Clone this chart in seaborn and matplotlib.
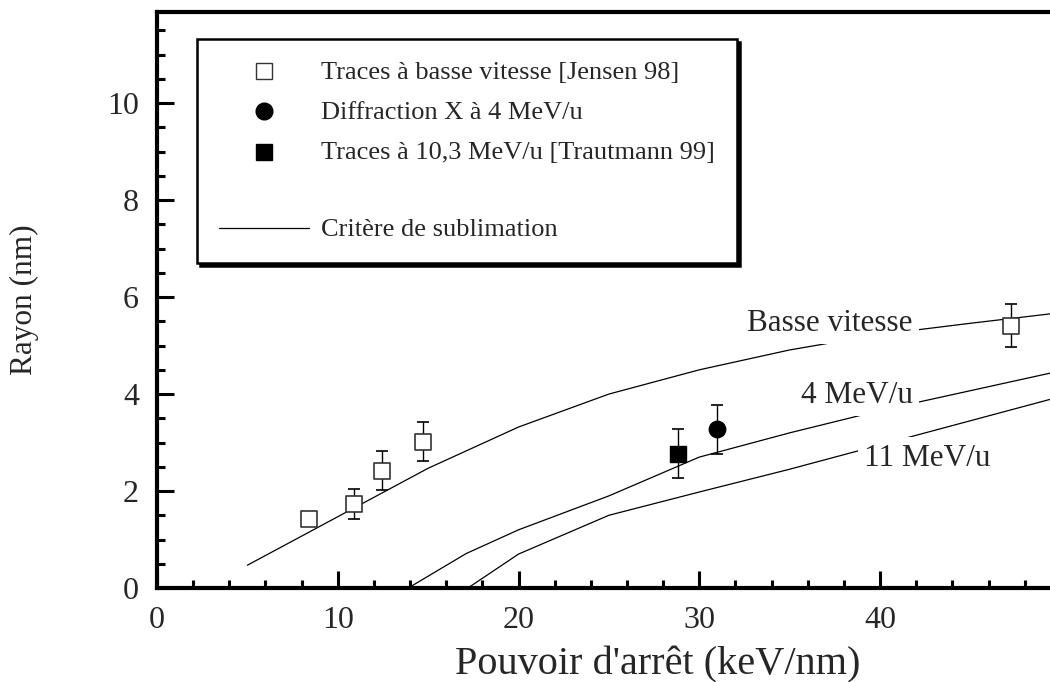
import numpy as np
import pandas as pd
import matplotlib
matplotlib.use('Agg')
import matplotlib.pyplot as plt
from matplotlib.lines import Line2D
from matplotlib.ticker import MultipleLocator
import seaborn as sns

# critere de sublimation (rayon en nm vs pouvoir d'arret en keV/nm)
bv_x = [5, 15, 20, 25, 30, 35, 40, 45, 50]
bv_y = [0.47, 2.47, 3.32, 4.0, 4.5, 4.91, 5.23, 5.46, 5.68]
mev4_x = [13.9, 17.1, 20, 25, 30, 35, 40, 45, 50]
mev4_y = [0.0, 0.71, 1.2, 1.9, 2.7, 3.2, 3.66, 4.07, 4.48]
mev11_x = [17.2, 20, 25, 30, 35, 40, 45, 50]
mev11_y = [0.0, 0.7, 1.5, 1.98, 2.45, 2.95, 3.45, 3.95]

# mesures
jensen_x = [8.4, 10.9, 12.43, 14.7, 47.26]
jensen_y = [1.42, 1.73, 2.42, 3.02, 5.41]
jensen_err = [0.0, 0.31, 0.4, 0.4, 0.44]
diffx_x = [31.0]
diffx_y = [3.27]
diffx_err = [0.5]
traut_x = [28.83]
traut_y = [2.77]
traut_err = [0.5]

curve_labels = ['Basse vitesse', '4 MeV/u', '11 MeV/u']
curve_label_pos = [(41.8, 5.46), (41.8, 3.98), (46.1, 2.68)]

sns.set_theme(style='ticks')
plt.rcParams['font.family'] = ['Liberation Serif', 'DejaVu Serif']

fig = plt.figure(figsize=(10.5, 6.82), dpi=100)
ax = fig.add_axes([157 / 1050, 1 - 588 / 682, 1 - 157 / 1050, (588 - 12) / 682])

for cx, cy in [(bv_x, bv_y), (mev4_x, mev4_y), (mev11_x, mev11_y)]:
    sns.lineplot(x=cx, y=cy, color='black', linewidth=0.9, sort=False,
                 estimator=None, ax=ax, zorder=2)

# error bars behind the markers
ax.errorbar(jensen_x, jensen_y, yerr=jensen_err, fmt='none', ecolor='black',
            elinewidth=1.0, capsize=4.5, capthick=1.2, zorder=3)
ax.errorbar(diffx_x + traut_x, diffx_y + traut_y, yerr=diffx_err + traut_err,
            fmt='none', ecolor='black', elinewidth=1.0, capsize=4.5,
            capthick=1.2, zorder=3)

sns.scatterplot(x=jensen_x, y=jensen_y, marker='s', s=140, color='white',
                edgecolor='#333333', linewidth=1.2, ax=ax, zorder=4)
sns.scatterplot(x=diffx_x, y=diffx_y, marker='o', s=140, color='black',
                edgecolor='black', linewidth=1.0, ax=ax, zorder=4)
sns.scatterplot(x=traut_x, y=traut_y, marker='s', s=140, color='black',
                edgecolor='black', linewidth=1.0, ax=ax, zorder=4)

for lab, (lx, ly) in zip(curve_labels, curve_label_pos):
    ax.text(lx, ly, lab, ha='right', va='center', fontsize=22.5, zorder=3,
            bbox=dict(facecolor='white', edgecolor='none', pad=4.5))

ax.set_xlim(0, 49.4)
ax.set_ylim(0, 11.88)
ax.xaxis.set_major_locator(MultipleLocator(10))
ax.xaxis.set_minor_locator(MultipleLocator(2))
ax.yaxis.set_major_locator(MultipleLocator(2))
ax.yaxis.set_minor_locator(MultipleLocator(0.5))
ax.tick_params(which='both', direction='in', width=2.2, color='black',
               labelsize=23, pad=13, top=False, right=False)
ax.tick_params(which='major', length=12)
ax.tick_params(which='minor', length=6)
for side in ['left', 'bottom', 'top']:
    ax.spines[side].set_linewidth(3)
    ax.spines[side].set_color('black')
ax.spines['right'].set_visible(False)

ax.set_xlabel("Pouvoir d'arrêt (keV/nm)", fontsize=29)
ax.set_ylabel('Rayon (nm)', fontsize=22.5)
ax.xaxis.set_label_coords(0.561, -0.134)
ax.xaxis.label.set_va('center')
ax.yaxis.set_label_coords(-0.148, 0.5)
ax.yaxis.label.set_va('center')

handles = [
    Line2D([], [], linestyle='none', marker='s', markersize=12, markerfacecolor='white',
           markeredgecolor='#333333', markeredgewidth=1.0),
    Line2D([], [], linestyle='none', marker='o', markersize=12, color='black'),
    Line2D([], [], linestyle='none', marker='s', markersize=12, color='black'),
    Line2D([], [], linestyle='none'),
    Line2D([], [], color='black', linewidth=0.9),
]
labels = ['Traces à basse vitesse [Jensen 98]', 'Diffraction X à 4 MeV/u',
          'Traces à 10,3 MeV/u [Trautmann 99]', ' ', 'Critère de sublimation']
leg = ax.legend(handles, labels, loc='upper left', bbox_to_anchor=(0.0448, 0.953),
                borderaxespad=0, fontsize=19, frameon=True, fancybox=False,
                shadow={'color': 'black', 'alpha': 1}, handlelength=3.4,
                handleheight=0.3, handletextpad=0.45, labelspacing=0.7,
                borderpad=0.85, edgecolor='black')
leg.get_texts()[3].set_fontsize(6)
leg.get_frame().set_linewidth(1.8)
leg.set_zorder(5)

fig.savefig('out.png', dpi=100)
